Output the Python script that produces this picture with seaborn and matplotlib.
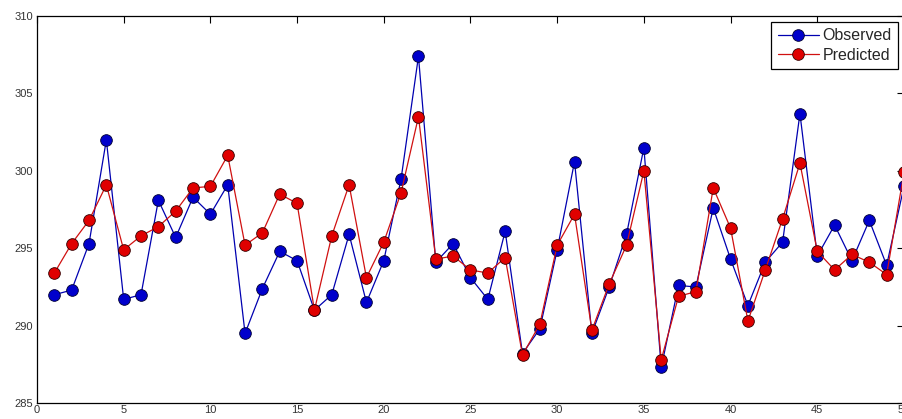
import numpy as np
import pandas as pd
import seaborn as sns
import matplotlib
matplotlib.use("Agg")
import matplotlib.pyplot as plt

# Values (sample index 1..50)
sample = list(range(1, 51))
observed = [292.0, 292.3, 295.3, 302.0, 291.7, 292.0, 298.1, 295.7, 298.3, 297.2,
            299.1, 289.5, 292.4, 294.8, 294.2, 291.0, 292.0, 295.9, 291.5, 294.2,
            299.5, 307.4, 294.1, 295.3, 293.1, 291.7, 296.1, 288.2, 289.8, 294.9,
            300.6, 289.5, 292.5, 295.9, 301.5, 287.3, 292.6, 292.5, 297.6, 294.3,
            291.3, 294.1, 295.4, 303.7, 294.5, 296.5, 294.2, 296.8, 293.9, 299.0]
predicted = [293.4, 295.3, 296.8, 299.1, 294.9, 295.8, 296.4, 297.4, 298.9, 299.0,
             301.0, 295.2, 296.0, 298.5, 297.9, 291.0, 295.8, 299.1, 293.1, 295.4,
             298.6, 303.5, 294.3, 294.5, 293.6, 293.4, 294.4, 288.1, 290.1, 295.2,
             297.2, 289.7, 292.7, 295.2, 300.0, 287.8, 291.9, 292.2, 298.9, 296.3,
             290.3, 293.6, 296.9, 300.5, 294.8, 293.6, 294.6, 294.1, 293.3, 299.9]

df = pd.DataFrame({"Sample": sample, "Observed": observed, "Predicted": predicted})

sns.set_style("white")
plt.rcParams["font.family"] = ["Liberation Sans", "DejaVu Sans"]
plt.rcParams["xtick.direction"] = "in"
plt.rcParams["ytick.direction"] = "in"

fig = plt.figure(figsize=(9.02, 4.19), dpi=100)
ax = fig.add_axes([0.041, 0.038, 0.9612, 0.9236])

sns.lineplot(data=df, x="Sample", y="Observed", ax=ax, color="#0000b0", linewidth=0.9,
             marker="o", markersize=8.4, markerfacecolor="#0000cc",
             markeredgecolor="#000033", markeredgewidth=0.6, label="Observed")
sns.lineplot(data=df, x="Sample", y="Predicted", ax=ax, color="#d01010", linewidth=0.9,
             marker="o", markersize=8.4, markerfacecolor="#e00000",
             markeredgecolor="#330000", markeredgewidth=0.6, label="Predicted")

ax.set_xlim(0, 50)
ax.set_ylim(285, 310)
ax.set_xticks(range(0, 51, 5))
ax.set_yticks(range(285, 311, 5))
ax.set_xlabel("")
ax.set_ylabel("")
ax.tick_params(axis="both", which="both", top=True, right=True, length=5,
               width=0.8, color="black", labelsize=8, labelcolor="#333333")
ax.tick_params(axis="x", pad=1.5)
ax.tick_params(axis="y", pad=3)
for s in ax.spines.values():
    s.set_color("black")
    s.set_linewidth(0.9)

leg = ax.legend(loc="upper right", bbox_to_anchor=(0.993, 0.985), borderaxespad=0,
                fancybox=False, framealpha=1, edgecolor="black", fontsize=11.5,
                handlelength=2.6, handletextpad=0.2, borderpad=0.4,
                labelspacing=0.3)
leg.get_frame().set_linewidth(0.9)

fig.savefig("out.png", dpi=100)
